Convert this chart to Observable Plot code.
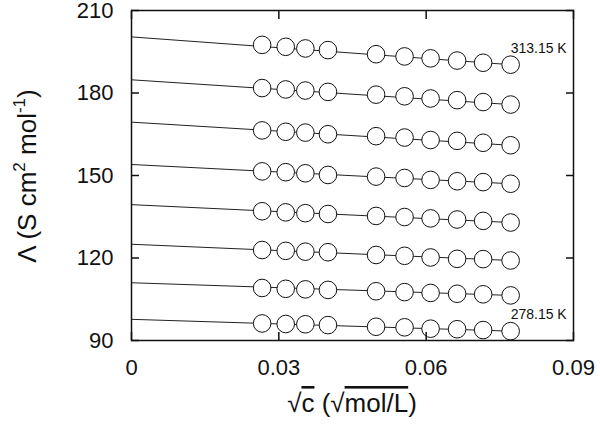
<!DOCTYPE html>
<html><head><meta charset="utf-8">
<script src="https://cdn.jsdelivr.net/npm/d3@7"></script>
<script src="https://cdn.jsdelivr.net/npm/@observablehq/plot@0.6"></script>
<style>
body{margin:0;background:#fff;}
svg{font-family:"Liberation Sans",Arial,Helvetica,sans-serif;}
</style>
</head><body><div id="chart"></div>
<script>
// √c values (√(mol/L))
const sqrtC = [0.0266, 0.0314, 0.0354, 0.0400, 0.0498, 0.0556, 0.0609, 0.0663, 0.0716, 0.0772];
const temperatures = ["313.15 K", "308.15 K", "303.15 K", "298.15 K", "293.15 K", "288.15 K", "283.15 K", "278.15 K"];
// Molar conductivity Λ (S cm² mol⁻¹)
const lambda313 = [197.5, 196.8, 196.2, 195.6, 194.1, 193.3, 192.6, 191.8, 191.0, 190.3];
const lambda308 = [181.8, 181.3, 180.9, 180.4, 179.4, 178.8, 178.0, 177.4, 176.7, 175.8];
const lambda303 = [166.4, 165.9, 165.6, 165.0, 164.3, 163.8, 162.9, 162.6, 161.9, 161.0];
const lambda298 = [151.5, 151.2, 150.8, 150.2, 149.6, 149.1, 148.4, 147.9, 147.6, 147.0];
const lambda293 = [137.0, 136.6, 136.3, 136.0, 135.3, 134.9, 134.4, 134.0, 133.5, 132.9];
const lambda288 = [122.9, 122.6, 122.3, 122.1, 121.1, 120.8, 120.2, 119.7, 119.6, 119.1];
const lambda283 = [109.1, 108.8, 108.6, 108.4, 107.9, 107.6, 107.3, 107.0, 106.8, 106.4];
const lambda278 = [96.2, 96.0, 95.9, 95.6, 95.0, 94.8, 94.3, 94.1, 93.8, 93.4];
// Limiting molar conductivity Λ0 (fit intercept at √c = 0)
const lambda0 = [200.4, 184.8, 169.4, 154.0, 139.4, 125.0, 111.0, 97.7];
const xTicks = [0, 0.03, 0.06, 0.09];
const yTicks = [90, 120, 150, 180, 210];

const series = [lambda313, lambda308, lambda303, lambda298, lambda293, lambda288, lambda283, lambda278];
const points = series.flatMap((vals, i) => vals.map((v, j) => ({T: temperatures[i], x: sqrtC[j], y: v})));
const fits = series.flatMap((vals, i) => [
  {T: temperatures[i], x: 0, y: lambda0[i]},
  {T: temperatures[i], x: sqrtC[sqrtC.length - 1], y: vals[vals.length - 1]}
]);
const labelIdx = [0, series.length - 1];
const labels = labelIdx.map(i => ({T: temperatures[i], x: sqrtC[sqrtC.length - 1], y: series[i][series[i].length - 1]}));

const chart = Plot.plot({
  width: 600,
  height: 426,
  marginLeft: 131,
  marginRight: 27,
  marginTop: 10,
  marginBottom: 86,
  x: {domain: [0, 0.09]},
  y: {domain: [90, 210]},
  style: {fontFamily: '"Liberation Sans", Arial, Helvetica, sans-serif', color: "#111", background: "#fff", overflow: "visible"},
  marks: [
    Plot.line(fits, {x: "x", y: "y", z: "T", stroke: "#222", strokeWidth: 1}),
    Plot.dot(points, {x: "x", y: "y", r: 8.8, fill: "white", stroke: "#111", strokeWidth: 1}),
    Plot.text(labels, {x: "x", y: "y", text: "T", textAnchor: "start", lineAnchor: "bottom", dy: -12, fontSize: 14, fill: "#111"}),
    Plot.axisX(xTicks, {anchor: "bottom", tickSize: 0, tickPadding: 19, fontSize: 22, tickFormat: d => d === 0 ? "0" : d.toFixed(2), label: null}),
    Plot.axisX(xTicks, {anchor: "bottom", tickSize: -8, strokeWidth: 1.5, tickFormat: () => "", label: null}),
    Plot.axisX(xTicks, {anchor: "top", tickSize: -8, strokeWidth: 1.5, tickFormat: () => "", label: null}),
    Plot.axisY(yTicks, {anchor: "left", tickSize: 0, tickPadding: 18, fontSize: 22, label: null}),
    Plot.axisY(yTicks, {anchor: "left", tickSize: -8, strokeWidth: 1.5, tickFormat: () => "", label: null}),
    Plot.axisY(yTicks, {anchor: "right", tickSize: -8, strokeWidth: 1.5, tickFormat: () => "", label: null}),
    Plot.frame({stroke: "#111", strokeWidth: 1.5})
  ]
});
document.getElementById("chart").appendChild(chart);

const svg = d3.select(chart);
// x-axis label: √c (√mol/L)
const xl = svg.append("text")
  .attr("x", 352).attr("y", 412)
  .attr("text-anchor", "middle")
  .attr("font-size", 26).attr("fill", "#111");
xl.append("tspan").text("√");
xl.append("tspan").attr("text-decoration", "overline").text("c");
xl.append("tspan").text(" (√");
xl.append("tspan").attr("text-decoration", "overline").text("mol/L");
xl.append("tspan").text(")");
// y-axis label: Λ (S cm² mol⁻¹)
const yl = svg.append("text")
  .attr("transform", "translate(36,176) rotate(-90)")
  .attr("text-anchor", "middle")
  .attr("font-size", 26).attr("fill", "#111");
yl.append("tspan").text("Λ (S cm");
yl.append("tspan").attr("font-size", 17).attr("dy", -11).text("2");
yl.append("tspan").attr("dy", 11).text(" mol");
yl.append("tspan").attr("font-size", 17).attr("dy", -11).text("-1");
yl.append("tspan").attr("dy", 11).text(")");
</script>
</body></html>
